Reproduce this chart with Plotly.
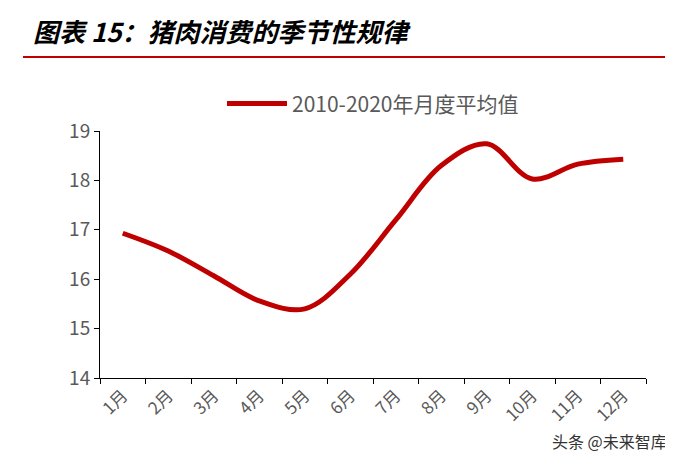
import plotly.graph_objects as go

months = ["1月","2月","3月","4月","5月","6月","7月","8月","9月","10月","11月","12月"]
values = [16.93, 16.57, 16.07, 15.56, 15.40, 16.10, 17.20, 18.30, 18.74, 18.03, 18.33, 18.43]

fig = go.Figure()
fig.add_trace(go.Scatter(x=months, y=values, mode="lines", name="2010-2020年月度平均值",
                         line=dict(color="#BF0000", width=5, shape="spline", smoothing=1.0)))
fig.update_layout(
    width=673, height=459, paper_bgcolor="white", plot_bgcolor="white",
    margin=dict(l=92, r=35, t=123, b=89, autoexpand=False),
    font=dict(family="Noto Sans CJK SC", color="#595959", size=16),
    showlegend=True,
    legend=dict(orientation="h", x=0.5, xanchor="center", y=1.11, yanchor="middle",
                font=dict(size=21, color="#595959"), itemwidth=60),
    xaxis=dict(showline=True, linecolor="#000", linewidth=1, tickson="boundaries",
               range=[-0.5, 11.5],
               ticks="outside", ticklen=5, tickcolor="#000", tickangle=-45,
               tickfont=dict(size=17, color="#595959"), showgrid=False),
    yaxis=dict(range=[14, 19], dtick=1, showline=True, linecolor="#000", linewidth=1,
               ticks="outside", ticklen=5, tickcolor="#000", showgrid=False,
               tickfont=dict(size=19, color="#595959")),
    annotations=[
        dict(text="<b><i>图表 15：猪肉消费的季节性规律</i></b>", xref="paper", yref="paper",
             x=-0.127, xanchor="left", y=1.405, yanchor="middle", showarrow=False,
             font=dict(size=26, color="#000")),
        dict(text="头条 @未来智库", xref="paper", yref="paper", x=1.043, xanchor="right",
             y=-0.255, yanchor="middle", showarrow=False, font=dict(size=16, color="#333")),
    ],
    shapes=[dict(type="line", xref="paper", yref="paper", x0=-0.141, x1=1.04, y0=1.30, y1=1.30,
                 line=dict(color="#C00000", width=2))],
)
fig.write_html("out.html")
